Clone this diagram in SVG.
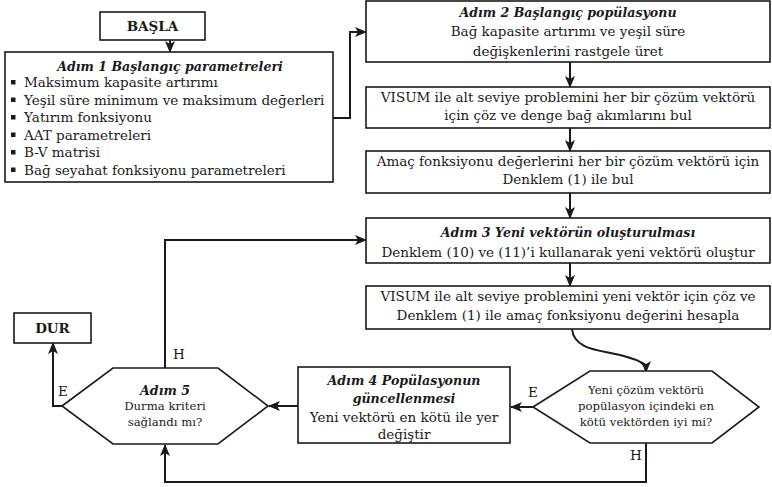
<svg xmlns="http://www.w3.org/2000/svg" width="772" height="487" viewBox="0 0 772 487" font-family="DejaVu Serif, serif" font-size="13.5">
<defs>
<style>
.box{fill:#fff;stroke:#1a1a1a;stroke-width:1.6}
text{fill:#1a1a1a}
.s{font-size:11.7px}
.bi{font-weight:bold;font-style:italic;font-size:12.6px}
.b{font-weight:bold;font-size:13.5px}
.c{text-anchor:middle}
.ln{fill:none;stroke:#1a1a1a;stroke-width:2}
</style>
<marker id="ah" viewBox="0 0 12 10" refX="11" refY="5" markerWidth="12" markerHeight="10" markerUnits="userSpaceOnUse" orient="auto">
<path d="M0,0 L12,5 L0,10 L3,5 z" fill="#1a1a1a"/>
</marker>
</defs>
<rect width="772" height="487" fill="#fff"/>

<g id="connectors">
<path class="ln" d="M170,40 V52" marker-end="url(#ah)"/>
<path class="ln" d="M333,118 H350 V32 H366" marker-end="url(#ah)"/>
<path class="ln" d="M570,62 V87" marker-end="url(#ah)"/>
<path class="ln" d="M570,128 V151" marker-end="url(#ah)"/>
<path class="ln" d="M570,193 V218" marker-end="url(#ah)"/>
<path class="ln" d="M570,263 V286" marker-end="url(#ah)"/>
<path class="ln" d="M572,329 C574,350 600,350 620,355 C638,360 646,362 646,372" marker-end="url(#ah)"/>
<path class="ln" d="M533,407 H511" marker-end="url(#ah)"/>
<path class="ln" d="M298,406 H269" marker-end="url(#ah)"/>
<path class="ln" d="M62,406 H53 V343" marker-end="url(#ah)"/>
<path class="ln" d="M165,368 V240 H366" marker-end="url(#ah)"/>
<path class="ln" d="M646,443 V482 H165 V445" marker-end="url(#ah)"/>
<text x="58" y="396">E</text>
<text x="173" y="359">H</text>
<text x="528" y="397">E</text>
<text x="630" y="460">H</text>
</g>

<g id="basla">
<rect class="box" x="100" y="12" width="105" height="28"/>
<text class="b c" x="152.5" y="31">BAŞLA</text>
</g>

<g id="adim1">
<rect class="box" x="5" y="52" width="328" height="130"/>
<text class="bi c" x="170" y="71">Adım 1 Başlangıç parametreleri</text>
<rect x="11" y="80" width="4.5" height="4.5" fill="#1a1a1a"/>
<rect x="11" y="97.5" width="4.5" height="4.5" fill="#1a1a1a"/>
<rect x="11" y="115" width="4.5" height="4.5" fill="#1a1a1a"/>
<rect x="11" y="132.5" width="4.5" height="4.5" fill="#1a1a1a"/>
<rect x="11" y="150" width="4.5" height="4.5" fill="#1a1a1a"/>
<rect x="11" y="167.5" width="4.5" height="4.5" fill="#1a1a1a"/>
<text x="24" y="87">Maksimum kapasite artırımı</text>
<text x="24" y="104.5">Yeşil süre minimum ve maksimum değerleri</text>
<text x="24" y="122">Yatırım fonksiyonu</text>
<text x="24" y="139.5">AAT parametreleri</text>
<text x="24" y="157">B-V matrisi</text>
<text x="24" y="174.5">Bağ seyahat fonksiyonu parametreleri</text>
</g>

<g id="adim2">
<rect class="box" x="366" y="1" width="404" height="61"/>
<text class="bi c" x="568" y="17">Adım 2 Başlangıç popülasyonu</text>
<text class="c" x="568" y="36">Bağ kapasite artırımı ve yeşil süre</text>
<text class="c" x="568" y="56">değişkenlerini rastgele üret</text>
</g>

<g id="visum1">
<rect class="box" x="366" y="87" width="404" height="41"/>
<text class="c" x="568" y="102">VISUM ile alt seviye problemini her bir çözüm vektörü</text>
<text class="c" x="568" y="120">için çöz ve denge bağ akımlarını bul</text>
</g>

<g id="amac">
<rect class="box" x="366" y="151" width="404" height="42"/>
<text class="c" x="568" y="166">Amaç fonksiyonu değerlerini her bir çözüm vektörü için</text>
<text class="c" x="568" y="184">Denklem (1) ile bul</text>
</g>

<g id="adim3">
<rect class="box" x="366" y="218" width="404" height="45"/>
<text class="bi c" x="568" y="237">Adım 3 Yeni vektörün oluşturulması</text>
<text class="c" x="568" y="257">Denklem (10) ve (11)’i kullanarak yeni vektörü oluştur</text>
</g>

<g id="visum2">
<rect class="box" x="366" y="286" width="404" height="43"/>
<text class="c" x="568" y="301">VISUM ile alt seviye problemini yeni vektör için çöz ve</text>
<text class="c" x="568" y="320">Denklem (1) ile amaç fonksiyonu değerini hesapla</text>
</g>

<g id="karar">
<polygon class="box" points="533,407 590,371 712,371 759,407 712,443 590,443"/>
<text class="s c" x="646" y="394">Yeni çözüm vektörü</text>
<text class="s c" x="646" y="410">popülasyon içindeki en</text>
<text class="s c" x="646" y="426">kötü vektörden iyi mi?</text>
</g>

<g id="adim4">
<rect class="box" x="298" y="367" width="212" height="76"/>
<text class="bi c" x="404" y="385">Adım 4 Popülasyonun</text>
<text class="bi c" x="404" y="403">güncellenmesi</text>
<text class="c" x="404" y="422">Yeni vektörü en kötü ile yer</text>
<text class="c" x="404" y="439">değiştir</text>
</g>

<g id="adim5">
<polygon class="box" points="62,406 113,368 218,368 268,406 218,444 113,444"/>
<text class="bi c" x="165" y="395">Adım 5</text>
<text class="s c" x="165" y="410">Durma kriteri</text>
<text class="s c" x="165" y="426">sağlandı mı?</text>
</g>

<g id="dur">
<rect class="box" x="14" y="313" width="77" height="30"/>
<text class="b c" x="52.5" y="333">DUR</text>
</g>
</svg>
